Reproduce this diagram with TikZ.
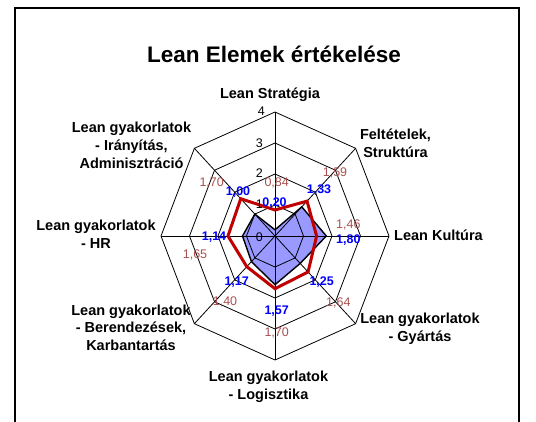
\documentclass[tikz,border=0pt]{standalone}
\usepackage{fontspec}
\setmainfont{Liberation Sans}
\definecolor{brownlab}{RGB}{170,80,80}
\definecolor{fillblue}{RGB}{153,153,255}
\definecolor{redline}{RGB}{192,0,0}
\begin{document}
\begin{tikzpicture}[x=1pt,y=-1pt,
  axislabel/.style={font=\fontsize{14.5}{17.8}\selectfont\bfseries, align=center, inner sep=0pt, anchor=base},
  ticklabel/.style={font=\fontsize{12.5}{14}\selectfont, inner sep=0pt, anchor=east},
  vallabA/.style={font=\fontsize{12.5}{14}\selectfont\bfseries, text=blue, inner sep=0pt},
  vallabB/.style={font=\fontsize{12.5}{14}\selectfont, text=brownlab, inner sep=0pt},
  gridline/.style={black, line width=0.8pt},
  seriesA/.style={fill=fillblue, draw=black, line width=1.4pt, line join=miter},
  seriesB/.style={draw=redline, line width=3pt, line join=miter}
]
\useasboundingbox (0,0) rectangle (536,421);
\fill[white] (0,0) rectangle (536,421);
% frame
\draw[line width=2pt] (14.5,425) -- (14.5,7.5) -- (519,7.5) -- (519,425);
% title
\node[font=\fontsize{22.5}{26}\selectfont\bfseries, anchor=base, inner sep=0pt] (title) at (274,62) {Lean Elemek értékelése};

\begin{scope}[shift={(275,236)}, x=28.5pt, y=31pt]
  \coordinate (O) at (0,0);
  \foreach \k in {0,...,7} \coordinate (ax\k) at ({90-45*\k}:4);
  % series A (filled)
  \draw[seriesA] (90:0.20) -- (45:1.33) -- (0:1.80) -- (-45:1.25) -- (-90:1.57) -- (-135:1.17) -- (180:1.14) -- (135:1.00) -- cycle;
  % grid
  \foreach \r in {1,2,3,4}
    \draw[gridline] (90:\r) -- (45:\r) -- (0:\r) -- (-45:\r) -- (-90:\r) -- (-135:\r) -- (180:\r) -- (135:\r) -- cycle;
  \foreach \k in {0,...,7} \draw[gridline] (O) -- (ax\k);
  % series B (line)
  \draw[seriesB] (90:0.84) -- (45:1.59) -- (0:1.46) -- (-45:1.64) -- (-90:1.70) -- (-135:1.40) -- (180:1.65) -- (135:1.70) -- cycle;
\end{scope}

% tick labels
\node[ticklabel] (t0) at (263,237) {0};
\node[ticklabel] (t1) at (263,204) {1};
\node[ticklabel] (t2) at (263,173) {2};
\node[ticklabel] (t3) at (263,143) {3};
\node[ticklabel] (t4) at (265,111) {4};

% value labels series A
\node[vallabA] (a0) at (274.5,203.3) {0,20};
\node[vallabA] (a1) at (319,190) {1,33};
\node[vallabA] (a2) at (348.3,240) {1,80};
\node[vallabA] (a3) at (321.7,281.7) {1,25};
\node[vallabA] (a4) at (276.7,310.7) {1,57};
\node[vallabA] (a5) at (236.7,281.7) {1,17};
\node[vallabA] (a6) at (214,236.7) {1,14};
\node[vallabA] (a7) at (238,192.3) {1,00};

% value labels series B
\node[vallabB] (b0) at (276.7,182.7) {0,84};
\node[vallabB] (b1) at (335,172.7) {1,59};
\node[vallabB] (b2) at (348.3,225) {1,46};
\node[vallabB] (b3) at (338.3,302.7) {1,64};
\node[vallabB] (b4) at (276.7,332.7) {1,70};
\node[vallabB] (b5) at (225,301.7) {1,40};
\node[vallabB] (b6) at (195,255) {1,65};
\node[vallabB] (b7) at (211.7,183.3) {1,70};

% axis labels (anchor = baseline of last line)
\node[axislabel] (l0) at (270,98) {Lean Stratégia};
\node[axislabel] (l1) at (395.5,157.5) {Feltételek,\\Struktúra};
\node[axislabel, anchor=base west] (l2) at (394,240.7) {Lean Kultúra};
\node[axislabel] (l3) at (420,341.7) {Lean gyakorlatok\\- Gyártás};
\node[axislabel] (l4) at (268.5,399) {Lean gyakorlatok\\- Logisztika};
\node[axislabel] (l5) at (131,350.7) {Lean gyakorlatok\\- Berendezések,\\Karbantartás};
\node[axislabel] (l6) at (96,248.5) {Lean gyakorlatok\\- HR};
\node[axislabel] (l7) at (131.5,168.3) {Lean gyakorlatok\\- Irányítás,\\Adminisztráció};
\end{tikzpicture}
\end{document}
